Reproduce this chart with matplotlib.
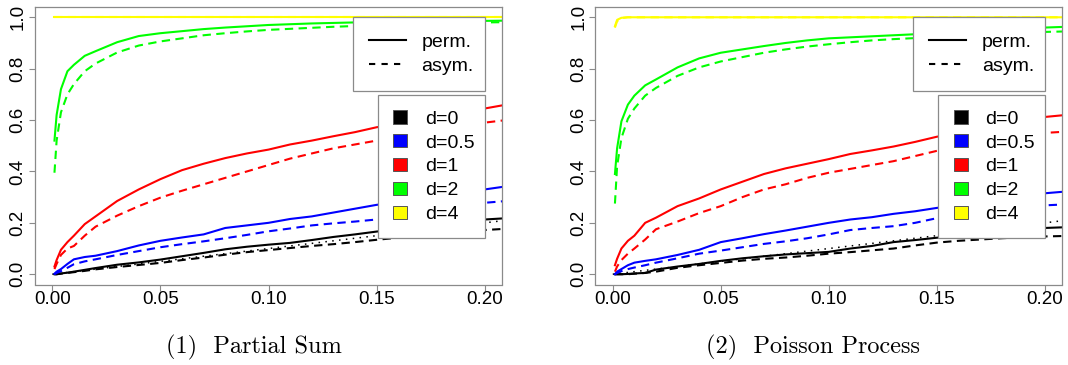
import matplotlib
matplotlib.use("Agg")
import matplotlib.pyplot as plt
from matplotlib.lines import Line2D
from matplotlib.patches import Patch

plt.rcParams['font.family'] = ['Liberation Sans', 'DejaVu Sans']

# nominal level (x axis)
alpha = [0.001, 0.002, 0.004, 0.007, 0.01, 0.015, 0.02, 0.03, 0.04, 0.05, 0.06, 0.07,
         0.08, 0.09, 0.10, 0.11, 0.12, 0.13, 0.14, 0.15, 0.16, 0.17, 0.18, 0.19, 0.20, 0.21]

d_labels = ["d=0", "d=0.5", "d=1", "d=2", "d=4"]
d_colors = ["#000000", "#0000FF", "#FF0000", "#00FF00", "#FFFF00"]

# ---- Panel (1): Partial Sum ----
ps_perm_d0 = [0.0, 0.0, 0.003, 0.006, 0.01, 0.017, 0.024, 0.037, 0.046, 0.057, 0.07, 0.083,
              0.097, 0.107, 0.115, 0.122, 0.133, 0.145, 0.155, 0.166, 0.175, 0.185, 0.195, 0.205, 0.213, 0.218]
ps_asym_d0 = [0.0, 0.0, 0.002, 0.005, 0.008, 0.013, 0.019, 0.028, 0.036, 0.044, 0.055, 0.065,
              0.076, 0.086, 0.094, 0.102, 0.11, 0.117, 0.125, 0.134, 0.142, 0.15, 0.158, 0.166, 0.172, 0.177]
ps_perm_d05 = [0.002, 0.01, 0.02, 0.04, 0.058, 0.067, 0.072, 0.09, 0.112, 0.13, 0.143, 0.155,
               0.18, 0.19, 0.2, 0.215, 0.225, 0.24, 0.255, 0.27, 0.28, 0.29, 0.305, 0.32, 0.33, 0.342]
ps_asym_d05 = [0.0, 0.005, 0.012, 0.025, 0.039, 0.05, 0.058, 0.075, 0.09, 0.105, 0.117, 0.128,
               0.14, 0.153, 0.167, 0.178, 0.19, 0.198, 0.205, 0.213, 0.228, 0.24, 0.255, 0.268, 0.278, 0.285]
ps_perm_d1 = [0.03, 0.055, 0.095, 0.125, 0.15, 0.195, 0.225, 0.285, 0.33, 0.37, 0.405, 0.43,
              0.452, 0.47, 0.485, 0.505, 0.52, 0.537, 0.553, 0.572, 0.585, 0.6, 0.615, 0.63, 0.645, 0.66]
ps_asym_d1 = [0.02, 0.04, 0.075, 0.1, 0.11, 0.15, 0.185, 0.228, 0.265, 0.298, 0.325, 0.35,
              0.375, 0.4, 0.425, 0.45, 0.47, 0.49, 0.505, 0.52, 0.535, 0.55, 0.565, 0.58, 0.59, 0.6]
ps_perm_d2 = [0.52, 0.62, 0.72, 0.79, 0.815, 0.85, 0.868, 0.903, 0.927, 0.938, 0.946, 0.954,
              0.96, 0.965, 0.97, 0.973, 0.976, 0.978, 0.98, 0.981, 0.982, 0.983, 0.984, 0.985, 0.986, 0.987]
ps_asym_d2 = [0.395, 0.52, 0.63, 0.7, 0.74, 0.79, 0.82, 0.863, 0.89, 0.906, 0.918, 0.93,
              0.938, 0.945, 0.951, 0.955, 0.959, 0.963, 0.966, 0.969, 0.972, 0.975, 0.977, 0.979, 0.98, 0.981]
ps_perm_d4 = [1.0] * 26
ps_asym_d4 = [1.0] * 26

# ---- Panel (2): Poisson Process ----
pp_perm_d0 = [0.0, 0.0, 0.0, 0.001, 0.003, 0.005, 0.018, 0.03, 0.04, 0.052, 0.062, 0.07,
              0.077, 0.082, 0.087, 0.1, 0.11, 0.125, 0.133, 0.142, 0.15, 0.157, 0.165, 0.173, 0.18, 0.183]
pp_asym_d0 = [0.0, 0.0, 0.0, 0.0, 0.002, 0.005, 0.01, 0.025, 0.035, 0.044, 0.053, 0.06,
              0.065, 0.072, 0.08, 0.086, 0.093, 0.1, 0.112, 0.123, 0.13, 0.135, 0.14, 0.144, 0.147, 0.149]
pp_perm_d05 = [0.0, 0.01, 0.02, 0.035, 0.045, 0.052, 0.058, 0.075, 0.095, 0.125, 0.14, 0.156,
               0.17, 0.185, 0.2, 0.213, 0.222, 0.235, 0.245, 0.258, 0.27, 0.28, 0.29, 0.305, 0.315, 0.322]
pp_asym_d05 = [0.0, 0.005, 0.012, 0.02, 0.026, 0.035, 0.045, 0.062, 0.08, 0.092, 0.105, 0.118,
               0.128, 0.14, 0.155, 0.172, 0.18, 0.187, 0.2, 0.218, 0.228, 0.238, 0.248, 0.26, 0.268, 0.272]
pp_perm_d1 = [0.035, 0.06, 0.1, 0.13, 0.15, 0.2, 0.22, 0.265, 0.295, 0.33, 0.36, 0.39,
              0.412, 0.43, 0.448, 0.468, 0.482, 0.497, 0.515, 0.535, 0.55, 0.565, 0.585, 0.6, 0.612, 0.62]
pp_asym_d1 = [0.01, 0.03, 0.055, 0.08, 0.1, 0.135, 0.175, 0.205, 0.238, 0.265, 0.3, 0.33,
              0.35, 0.375, 0.395, 0.41, 0.425, 0.44, 0.46, 0.48, 0.495, 0.51, 0.525, 0.54, 0.55, 0.555]
pp_perm_d2 = [0.39, 0.49, 0.595, 0.66, 0.695, 0.735, 0.758, 0.805, 0.84, 0.862, 0.875, 0.888,
              0.9, 0.91, 0.918, 0.922, 0.926, 0.93, 0.934, 0.937, 0.941, 0.945, 0.95, 0.955, 0.96, 0.963]
pp_asym_d2 = [0.275, 0.42, 0.53, 0.605, 0.645, 0.695, 0.725, 0.772, 0.805, 0.828, 0.845, 0.862,
              0.875, 0.886, 0.895, 0.903, 0.91, 0.915, 0.919, 0.923, 0.927, 0.93, 0.935, 0.94, 0.943, 0.945]
pp_perm_d4 = [0.965, 0.99, 0.998, 1.0, 1.0, 1.0, 1.0, 1.0, 1.0, 1.0, 1.0, 1.0, 1.0,
              1.0, 1.0, 1.0, 1.0, 1.0, 1.0, 1.0, 1.0, 1.0, 1.0, 1.0, 1.0, 1.0]
pp_asym_d4 = [0.96, 0.985, 0.997, 1.0, 1.0, 1.0, 1.0, 1.0, 1.0, 1.0, 1.0, 1.0, 1.0,
              1.0, 1.0, 1.0, 1.0, 1.0, 1.0, 1.0, 1.0, 1.0, 1.0, 1.0, 1.0, 1.0]

# reference diagonal (size = level)
diag_x = [0.0, 0.21]
diag_y = [0.0, 0.21]

x_ticks = [0.0, 0.05, 0.10, 0.15, 0.20]
x_ticklabels = ["0.00", "0.05", "0.10", "0.15", "0.20"]
y_ticks = [0.0, 0.2, 0.4, 0.6, 0.8, 1.0]
y_ticklabels = ["0.0", "0.2", "0.4", "0.6", "0.8", "1.0"]

captions = ["(1)  Partial Sum", "(2)  Poisson Process"]

panels = [
    ([ps_perm_d0, ps_perm_d05, ps_perm_d1, ps_perm_d2, ps_perm_d4],
     [ps_asym_d0, ps_asym_d05, ps_asym_d1, ps_asym_d2, ps_asym_d4]),
    ([pp_perm_d0, pp_perm_d05, pp_perm_d1, pp_perm_d2, pp_perm_d4],
     [pp_asym_d0, pp_asym_d05, pp_asym_d1, pp_asym_d2, pp_asym_d4]),
]

W, H = 1068, 365
fig = plt.figure(figsize=(W / 100, H / 100), dpi=100)
axes_px = [(35, 7, 502, 284.5), (595.5, 7, 1062, 284.5)]
caption_x = [253.5, 813.5]

box_col = "#8a8a8a"
lw = 1.5
dash = (0, (4, 2.6))
leg_fs = 14

for i, (perm, asym) in enumerate(panels):
    x0, y0, x1, y1 = axes_px[i]
    ax = fig.add_axes([x0 / W, 1 - y1 / H, (x1 - x0) / W, (y1 - y0) / H])
    ax.plot(diag_x, diag_y, color="black", lw=1.1, linestyle=(0, (1, 3.5)))
    for k in range(5):
        ax.plot(alpha, perm[k], color=d_colors[k], lw=lw, solid_joinstyle="round")
        ax.plot(alpha, asym[k], color=d_colors[k], lw=lw, linestyle=dash)
    ax.set_xlim(-0.008, 0.208)
    ax.set_ylim(-0.04, 1.04)
    ax.set_xticks(x_ticks)
    ax.set_xticklabels(x_ticklabels)
    ax.set_yticks(y_ticks)
    ax.set_yticklabels(y_ticklabels, rotation=90, va="center")
    ax.tick_params(axis="both", length=4, width=0.8, color=box_col, labelsize=13.5)
    ax.tick_params(axis="x", pad=1.0)
    ax.tick_params(axis="y", pad=2.0)
    for sp in ax.spines.values():
        sp.set_color(box_col)
        sp.set_linewidth(0.9)

    h1 = [Line2D([], [], color="black", lw=lw),
          Line2D([], [], color="black", lw=lw, linestyle=(0, (3, 3)))]
    ax1w = x1 - x0
    ax1h = y1 - y0
    # legend 1 (line types)
    lx0, ly0, lx1 = (353 + (x0 - 35), 17, 485 + (x1 - 502))
    leg1 = ax.legend(h1, ["perm.", "asym."], loc="upper left",
                     bbox_to_anchor=((lx0 - x0) / ax1w, (y1 - ly0) / ax1h,
                                     (lx1 - lx0) / ax1w, 0),
                     mode="expand", fancybox=False, framealpha=1, edgecolor=box_col,
                     fontsize=leg_fs, handlelength=1.9, handletextpad=0.8,
                     borderpad=0.82, labelspacing=0.33, borderaxespad=0)
    leg1.get_frame().set_linewidth(0.9)
    ax.add_artist(leg1)
    # legend 2 (colors)
    h2 = [Patch(facecolor=c, edgecolor="#555555", lw=0.7) for c in d_colors]
    mx0, my0, mx1 = (378 + (x0 - 35), 95, 485 + (x1 - 502))
    leg2 = ax.legend(h2, d_labels, loc="upper left",
                     bbox_to_anchor=((mx0 - x0) / ax1w, (y1 - my0) / ax1h,
                                     (mx1 - mx0) / ax1w, 0),
                     mode="expand", fancybox=False, framealpha=1, edgecolor=box_col,
                     fontsize=leg_fs, handlelength=0.72, handleheight=0.68,
                     handletextpad=0.9, borderpad=0.78, labelspacing=0.33,
                     borderaxespad=0)
    leg2.get_frame().set_linewidth(0.9)

    fig.text(caption_x[i] / W, 1 - 347 / H, captions[i], family="cmr10",
             fontsize=17.5, ha="center", va="center")

fig.savefig("out.png", dpi=100)
